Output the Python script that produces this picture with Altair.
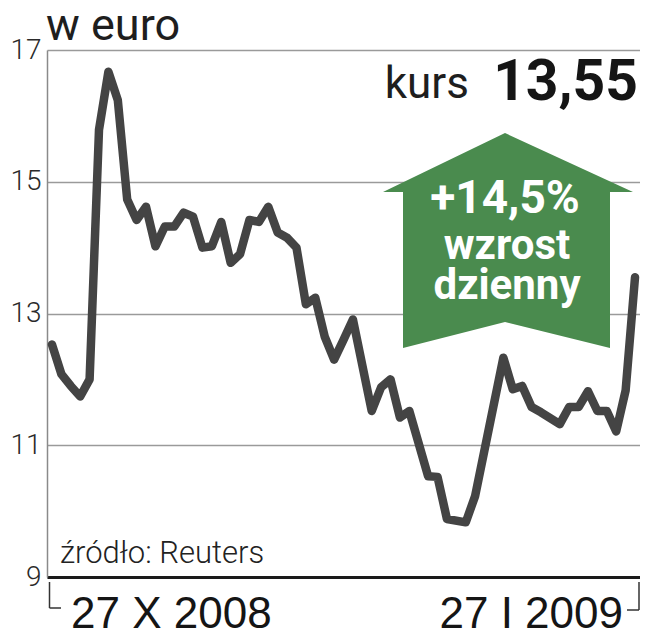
import altair as alt
import pandas as pd

# trading-session index (0 = 27 X 2008, 62 = 27 I 2009) and price in euro
dni = [0, 1, 2, 3, 4, 5, 6, 7, 8, 9, 10, 11, 12, 13, 14, 15, 16, 17, 18, 19,
       20, 21, 22, 23, 24, 25, 26, 27, 28, 29, 30, 31, 32, 34, 35, 36, 37, 38,
       40, 41, 42, 44, 45, 48, 49, 50, 51, 52, 54, 55, 56, 57, 58, 59, 60, 61, 62]
kurs = [12.53, 12.08, 11.90, 11.74, 12.00, 15.79, 16.67, 16.24, 14.73, 14.42,
        14.62, 14.02, 14.32, 14.32, 14.53, 14.47, 14.00, 14.02, 14.39, 13.77,
        13.90, 14.42, 14.39, 14.62, 14.23, 14.15, 14.00, 13.14, 13.24, 12.65,
        12.30, 12.60, 12.91, 11.52, 11.88, 12.00, 11.42, 11.52,
        10.53, 10.52, 9.88, 9.83, 10.23, 12.33, 11.85, 11.90, 11.58, 11.50,
        11.32, 11.58, 11.58, 11.82, 11.52, 11.52, 11.21, 11.83, 13.55]
y_ticks = [9, 11, 13, 15, 17]
start_label = "27 X 2008"
end_label = "27 I 2009"
unit_label = "w euro"
kurs_label = "kurs"
kurs_value = "13,55"
change_lines = ["+14,5%", "wzrost", "dzienny"]
source_label = "źródło: Reuters"

df = pd.DataFrame({"dzien": dni, "kurs": kurs})
one = pd.DataFrame({"a": [0]})

W, H = 593, 527
GREEN = "#4a8b4e"

x_scale = alt.Scale(domain=[-0.53, 62.53], nice=False, zero=False)
y_scale = alt.Scale(domain=[9, 17], nice=False, zero=False)

line = alt.Chart(df).mark_line(
    color="#444444", strokeWidth=8.5, strokeJoin="round", strokeCap="round"
).encode(
    x=alt.X("dzien:Q", scale=x_scale,
            axis=alt.Axis(title=None, labels=False, ticks=False, grid=False,
                          domainColor="#1a1a1a", domainWidth=3)),
    y=alt.Y("kurs:Q", scale=y_scale,
            axis=alt.Axis(title=None, values=y_ticks, grid=True, gridColor="#9a9a9a",
                          gridWidth=1.5, ticks=False, domainColor="#8a8a8a",
                          domainWidth=1.5, labelFontSize=28, labelFont="Roboto",
                          labelFontWeight=300, labelColor="#2a2a2a", labelPadding=6,
                          labelFlush=False, labelOverlap=False)),
)

arrow_path = ("M-0.024,-0.86 L1,-0.388 L0.816,-0.388 L0.816,0.86 L-0.024,0.652 "
              "L-0.84,0.86 L-0.84,-0.388 L-1,-0.388 Z")
arrow = alt.Chart(one).mark_point(
    shape=arrow_path, size=62500, filled=True, fill=GREEN, opacity=1, strokeWidth=0
).encode(x=alt.value(461), y=alt.value(190.5))


def txt(text, x, y, size, align="left", weight="normal", color="#1e1e1e",
        font="Roboto"):
    return alt.Chart(one).mark_text(
        text=text, align=align, baseline="alphabetic", fontSize=size,
        fontWeight=weight, color=color, font=font
    ).encode(x=alt.value(x), y=alt.value(y))


texts = [
    txt(unit_label, -1, -10, 45),
    txt(kurs_label, 422, 48, 44, align="right"),
    txt(kurs_value, 591, 50, 57, align="right", weight="bold", color="#151515"),
    txt(change_lines[0], 458, 163, 46, align="center", weight="bold", color="white"),
    txt(change_lines[1], 460, 209, 42, align="center", weight="bold", color="white"),
    txt(change_lines[2], 460, 249, 42, align="center", weight="bold", color="white"),
    txt(source_label, 13, 513, 31, weight=300, color="#222222"),
    txt(start_label, 24, 578, 44, font="Liberation Sans", color="#151515"),
    txt(end_label, 576, 578, 44, align="right", font="Liberation Sans", color="#151515"),
]


def rule(x, x2, y, y2):
    return alt.Chart(one).mark_rule(color="#333333", strokeWidth=1.5).encode(
        x=alt.value(x), x2=alt.value(x2), y=alt.value(y), y2=alt.value(y2))


brackets = [
    rule(2.5, 2.5, 532, 558),
    rule(2.5, 14, 558, 558),
    rule(592, 592, 532, 560),
    rule(580, 592, 560, 560),
]

chart = alt.layer(line, arrow, *texts, *brackets).properties(
    width=W, height=H,
    autosize=alt.AutoSizeParams(type="none"),
    padding={"left": 39, "top": 42, "right": 0, "bottom": 55},
).configure(background="white", view=alt.ViewConfig(stroke=None))

chart.save("out.html", embed_options={"renderer": "svg", "actions": False})
